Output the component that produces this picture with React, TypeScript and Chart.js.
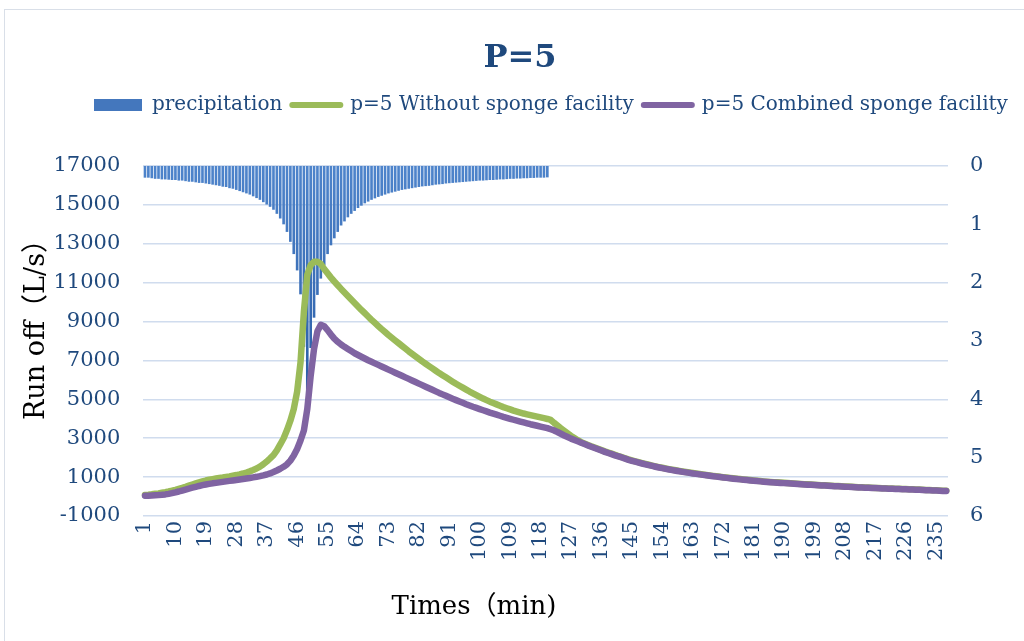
import React, { useEffect, useRef } from 'react';
import { Chart, registerables } from 'chart.js';

Chart.register(...registerables);

// minute index (x categories)
const minutes: string[] = Array.from({ length: 238 }, (_, i) => String(i + 1));
const xLabelStep = 9;

// precipitation (mm), minutes 1..120
const precipitation: number[] = [
  0.20, 0.20, 0.21, 0.22, 0.22, 0.23, 0.23, 0.235, 0.24, 0.24,
  0.25, 0.25, 0.26, 0.27, 0.27, 0.28, 0.29, 0.29, 0.30, 0.31,
  0.32, 0.33, 0.34, 0.355, 0.36, 0.38, 0.39, 0.41, 0.43, 0.45,
  0.47, 0.49, 0.52, 0.55, 0.58, 0.62, 0.66, 0.70, 0.75, 0.82,
  0.90, 1.00, 1.13, 1.30, 1.51, 1.79, 2.20, 3.10, 3.93, 3.12,
  2.60, 2.21, 1.93, 1.70, 1.51, 1.36, 1.24, 1.13, 1.02, 0.95,
  0.88, 0.82, 0.77, 0.72, 0.68, 0.64, 0.61, 0.58, 0.555, 0.53,
  0.51, 0.49, 0.47, 0.455, 0.44, 0.425, 0.41, 0.40, 0.39, 0.38,
  0.37, 0.36, 0.35, 0.345, 0.34, 0.33, 0.32, 0.315, 0.31, 0.30,
  0.295, 0.29, 0.285, 0.28, 0.275, 0.27, 0.265, 0.26, 0.255, 0.25,
  0.25, 0.245, 0.24, 0.24, 0.235, 0.23, 0.23, 0.225, 0.22, 0.22,
  0.215, 0.215, 0.21, 0.21, 0.205, 0.205, 0.20, 0.20, 0.20, 0.195,
];

// runoff without sponge facility (L/s)
const withoutSponge: number[] = [
  80, 95, 115, 140, 165, 195, 225, 260, 300, 345,
  395, 445, 500, 560, 620, 675, 725, 775, 825, 865,
  895, 925, 955, 980, 1010, 1040, 1075, 1105, 1140, 1185,
  1235, 1295, 1365, 1440, 1540, 1660, 1800, 1960, 2130, 2380,
  2680, 3000, 3420, 3900, 4500, 5400, 6900, 9500, 11400, 11900,
  12070, 12080, 11960, 11700, 11480, 11260, 11060, 10870, 10680, 10500,
  10320, 10140, 9960, 9780, 9600, 9430, 9260, 9090, 8930, 8770,
  8610, 8460, 8310, 8170, 8030, 7890, 7750, 7610, 7470, 7340,
  7210, 7080, 6950, 6830, 6710, 6590, 6470, 6350, 6240, 6130,
  6020, 5910, 5800, 5700, 5600, 5500, 5400, 5310, 5220, 5130,
  5040, 4960, 4880, 4810, 4740, 4670, 4600, 4540, 4480, 4420,
  4370, 4320, 4270, 4230, 4190, 4150, 4110, 4070, 4030, 3990,
  3940, 3790, 3650, 3510, 3380, 3250, 3120, 3010, 2900, 2800,
  2725, 2655, 2585, 2520, 2455, 2390, 2325, 2265, 2205, 2145,
  2087, 2032, 1972, 1912, 1862, 1814, 1768, 1723, 1679, 1637,
  1594, 1554, 1516, 1480, 1446, 1413, 1381, 1350, 1320, 1291,
  1261, 1234, 1208, 1183, 1158, 1134, 1110, 1087, 1064, 1042,
  1018, 997, 976, 956, 937, 918, 900, 882, 864, 847,
  829, 812, 796, 780, 767, 754, 742, 730, 718, 706,
  693, 681, 670, 659, 648, 637, 627, 617, 607, 597,
  586, 576, 566, 556, 547, 538, 529, 520, 511, 502,
  492, 483, 475, 467, 460, 453, 446, 439, 432, 425,
  418, 412, 406, 400, 393, 386, 379, 372, 365, 358,
  348, 340, 332, 325, 318, 311, 304, 298,
];

// runoff with combined sponge facility (L/s)
const combinedSponge: number[] = [
  40, 45, 55, 65, 75, 90, 110, 140, 175, 215,
  260, 310, 360, 410, 455, 500, 545, 585, 620, 650,
  680, 705, 730, 755, 780, 805, 830, 855, 880, 905,
  930, 955, 985, 1015, 1050, 1090, 1135, 1190, 1260, 1340,
  1430, 1530, 1660, 1850, 2110, 2450, 2880, 3400, 4500, 6200,
  7600, 8500, 8830, 8760, 8560, 8330, 8120, 7960, 7820, 7700,
  7590, 7480, 7370, 7280, 7190, 7100, 7010, 6930, 6850, 6770,
  6690, 6610, 6530, 6450, 6370, 6290, 6210, 6130, 6050, 5970,
  5890, 5810, 5730, 5650, 5570, 5490, 5410, 5330, 5255, 5180,
  5105, 5030, 4960, 4890, 4820, 4750, 4685, 4620, 4560, 4500,
  4440, 4380, 4320, 4265, 4210, 4155, 4100, 4050, 4000, 3950,
  3900, 3855, 3810, 3765, 3720, 3680, 3640, 3600, 3560, 3520,
  3460, 3400, 3320, 3230, 3140, 3060, 2980, 2910, 2840, 2770,
  2700, 2630, 2560, 2495, 2430, 2365, 2300, 2240, 2180, 2120,
  2065, 2010, 1950, 1890, 1840, 1792, 1746, 1701, 1657, 1615,
  1574, 1534, 1496, 1460, 1426, 1393, 1361, 1330, 1300, 1271,
  1243, 1216, 1190, 1165, 1140, 1116, 1092, 1069, 1046, 1024,
  1002, 981, 960, 940, 921, 902, 884, 866, 848, 831,
  814, 797, 781, 765, 752, 739, 727, 715, 703, 691,
  679, 667, 656, 645, 634, 623, 613, 603, 593, 583,
  573, 563, 553, 543, 534, 525, 516, 507, 498, 489,
  480, 471, 463, 455, 448, 441, 434, 427, 420, 413,
  406, 400, 394, 388, 381, 374, 367, 360, 353, 346,
  336, 328, 320, 313, 306, 299, 292, 286,
];

const FONT = "'DejaVu Serif', 'Noto Sans CJK SC', serif";
const TEXT_BLUE = '#1F497D';
const BAR_BLUE = '#4477BD';
const GREEN = '#9BBB59';
const PURPLE = '#8064A2';
const GRID = '#D0DCEE';

const frame = {
  id: 'excelFrame',
  beforeDraw(chart: any) {
    const ctx = chart.ctx;
    ctx.save();
    ctx.strokeStyle = '#D9DFE8';
    ctx.lineWidth = 1;
    ctx.strokeRect(4.5, 9.5, 1100, 700);
    ctx.restore();
  },
  afterLayout(chart: any) {
    // Excel-like placement of title, legend and axis titles
    const t = chart.titleBlock;
    const lg = chart.legend;
    if (t) {
      const dy = t.top;
      t.top -= dy; t.bottom -= dy;
      t.left += 8; t.right += 8;
      if (lg) { lg.top -= dy; lg.bottom -= dy; }
    }
    if (lg && lg.lineWidths) {
      const pad = 10;
      const start = (lg.left + pad + lg.right - lg.lineWidths[0]) / 2;
      const dx = 94 - start;
      lg.left += dx; lg.right += dx;
    }
    const xs = chart.scales.x;
    if (xs) { xs.left = 0; }
    const ys = chart.scales.y;
    if (ys) { ys.left = 0; ys.top = 130; }
  },
};

export default function App() {
  const ref = useRef<HTMLCanvasElement | null>(null);

  useEffect(() => {
    if (!ref.current) return;
    const chart = new Chart(ref.current, {
      type: 'bar',
      data: {
        labels: minutes,
        datasets: [
          {
            type: 'bar',
            label: 'precipitation',
            data: precipitation,
            yAxisID: 'y1',
            order: 3,
            backgroundColor: (c: any) => {
              const a = c.chart.chartArea;
              if (!a) return BAR_BLUE;
              const g = c.chart.ctx.createLinearGradient(0, a.top, 0, a.top + 240);
              g.addColorStop(0, '#4E84CB');
              g.addColorStop(1, '#285BA4');
              return g;
            },
            borderWidth: 0,
            barPercentage: 0.78,
            categoryPercentage: 1.0,
          } as any,
          {
            type: 'line',
            label: 'p=5 Without sponge facility',
            data: withoutSponge,
            yAxisID: 'y',
            order: 2,
            borderColor: GREEN,
            backgroundColor: GREEN,
            borderWidth: 6.5,
            pointRadius: 0,
            tension: 0,
            borderCapStyle: 'round',
            borderJoinStyle: 'round',
            fill: false,
          } as any,
          {
            type: 'line',
            label: 'p=5 Combined sponge facility',
            data: combinedSponge,
            yAxisID: 'y',
            order: 1,
            borderColor: PURPLE,
            backgroundColor: PURPLE,
            borderWidth: 6.5,
            pointRadius: 0,
            tension: 0,
            borderCapStyle: 'round',
            borderJoinStyle: 'round',
            fill: false,
          } as any,
        ],
      },
      options: {
        animation: false,
        responsive: true,
        maintainAspectRatio: false,
        events: [],
        layout: { padding: 0 },
        plugins: {
          tooltip: { enabled: false },
          title: {
            display: true,
            text: 'P=5',
            color: TEXT_BLUE,
            font: { family: FONT, size: 32, weight: 'bold' },
            padding: { top: 39, bottom: 7.5 },
          },
          legend: {
            display: true,
            position: 'top',
            align: 'center',
            labels: {
              font: { family: FONT, size: 20 },
              color: TEXT_BLUE,
              usePointStyle: true,
              pointStyleWidth: 48,
              boxHeight: 12,
              padding: 10,
              generateLabels: (ch: any) =>
                ch.data.datasets.map((ds: any, i: number) => ({
                  text: ds.label,
                  datasetIndex: i,
                  hidden: false,
                  fillStyle: i === 0 ? BAR_BLUE : ds.borderColor,
                  strokeStyle: i === 0 ? BAR_BLUE : ds.borderColor,
                  lineWidth: i === 0 ? 12 : 6,
                  lineCap: i === 0 ? 'butt' : 'round',
                  pointStyle: 'line',
                  fontColor: TEXT_BLUE,
                })),
            },
          },
        },
        scales: {
          x: {
            type: 'category',
            offset: true,
            grid: { display: false, drawTicks: false },
            border: { display: false },
            ticks: {
              autoSkip: false,
              minRotation: 90,
              maxRotation: 90,
              padding: 5,
              color: TEXT_BLUE,
              font: { family: FONT, size: 21 },
              callback: (_v: any, i: number) => (i % xLabelStep === 0 ? minutes[i] : ''),
            },
            title: {
              display: true,
              text: 'Times（min)',
              color: '#000000',
              font: { family: FONT, size: 26 },
              padding: { top: 0, bottom: 18.4 },
            },
            afterFit: (s: any) => { s.height = 125; },
          },
          y: {
            position: 'left',
            min: -1000,
            max: 17000,
            ticks: {
              stepSize: 2000,
              padding: 23,
              color: TEXT_BLUE,
              font: { family: FONT, size: 21 },
              callback: (v: any) => String(v),
            },
            grid: { color: GRID, lineWidth: 1.6, drawTicks: false },
            border: { display: false },
            title: {
              display: true,
              text: 'Run off（L/s）',
              color: '#000000',
              font: { family: FONT, size: 27 },
              padding: { top: 20.8, bottom: 0 },
            },
            afterFit: (s: any) => { s.width = 143.3; s.paddingTop = 166; },
          },
          y1: {
            position: 'right',
            reverse: true,
            min: 0,
            max: 6,
            ticks: {
              stepSize: 1,
              padding: 22,
              color: TEXT_BLUE,
              font: { family: FONT, size: 21 },
              callback: (v: any) => String(v),
            },
            grid: { display: false, drawTicks: false },
            border: { display: false },
            afterFit: (s: any) => { s.width = 76; },
          },
        },
      } as any,
      plugins: [frame],
    });
    return () => chart.destroy();
  }, []);

  return (
    <div style={{ position: 'fixed', left: 0, top: 0, width: '1024px', height: '641px', background: '#ffffff' }}>
      <canvas ref={ref} />
    </div>
  );
}
